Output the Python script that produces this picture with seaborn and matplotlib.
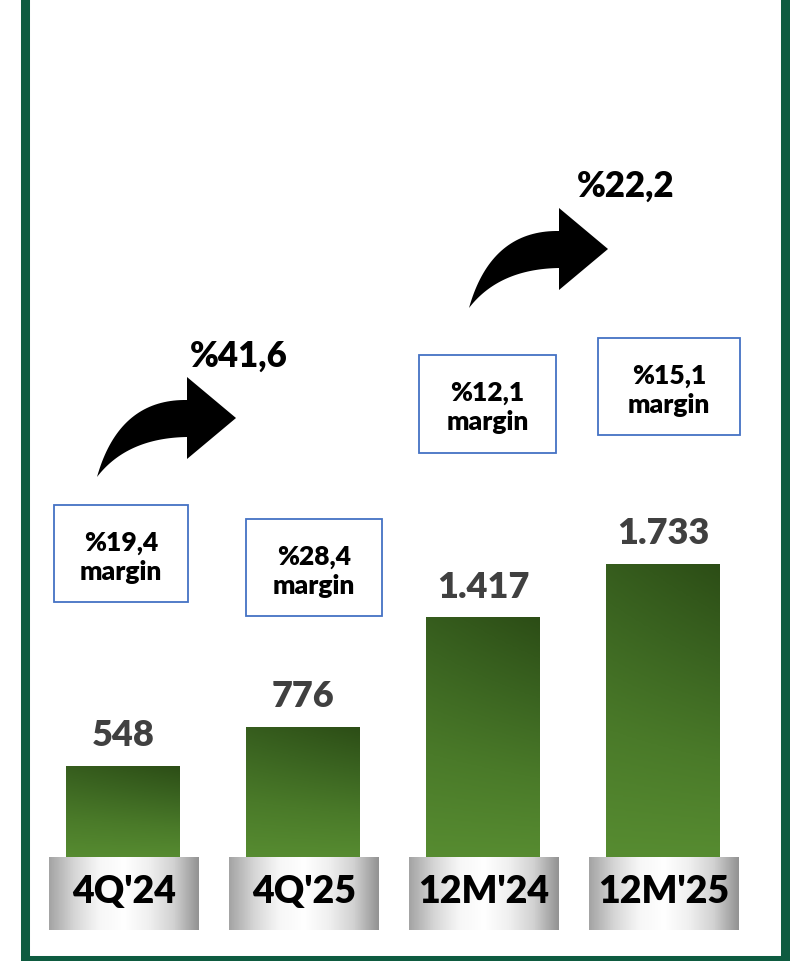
import numpy as np
import pandas as pd
import matplotlib.pyplot as plt
import seaborn as sns
from matplotlib.colors import LinearSegmentedColormap
from matplotlib.patches import Rectangle, Polygon

# data
periods = ["4Q'24", "4Q'25", "12M'24", "12M'25"]
values = [548, 776, 1417, 1733]
margins = ["%19,4", "%28,4", "%12,1", "%15,1"]
growth = ["%41,6", "%22,2"]

df = pd.DataFrame({"period": periods, "value": values})

sns.set_theme(style="white")
plt.rcParams['font.family'] = ['Lato', 'DejaVu Sans']
WEIGHT = 'heavy'

W, H = 790, 962
fig = plt.figure(figsize=(W / 100, H / 100), dpi=100, facecolor='white')

# main bar axes: baseline at y=860px, 180px per category
ax = fig.add_axes([33 / W, (H - 860) / H, 720 / W, (860 - 178) / H])
sns.barplot(data=df, x="period", y="value", width=0.63, color="#4a7a28", ax=ax)
ax.set_xlim(-0.5, 3.5)
ax.set_ylim(0, 4000)
ax.set_axis_off()

# vertical/diagonal green gradient clipped to each bar
green = LinearSegmentedColormap.from_list("g", ["#578c31", "#4a7a29", "#3a6320", "#2c4d16"])
yy, xx = np.mgrid[0:1:200j, 0:1:60j]
grad = 0.8 * yy + 0.25 * xx * yy
for p in ax.patches:
    x0, y0 = p.get_x(), p.get_y()
    w, h = p.get_width(), p.get_height()
    im = ax.imshow(grad, cmap=green, origin='lower', aspect='auto',
                   extent=(x0, x0 + w, y0, y0 + h), zorder=2, vmin=0, vmax=1.05)
    im.set_clip_path(p)
    p.set_facecolor('none')
    p.set_linewidth(0)
ax.set_xlim(-0.5, 3.5)
ax.set_ylim(0, 4000)

for i, v in enumerate(values):
    ax.annotate(f"{v:,}".replace(",", "."), xy=(i, v), xytext=(0, 15),
                textcoords="offset points", ha='center', va='baseline',
                fontsize=26, fontweight=WEIGHT, color='#404040')

# overlay in pixel coordinates for labels, boxes, arrows and frame
ov = fig.add_axes([0, 0, 1, 1], zorder=5)
ov.set_xlim(0, W)
ov.set_ylim(H, 0)
ov.set_axis_off()
ov.patch.set_alpha(0)

gray = LinearSegmentedColormap.from_list(
    "gr", ["#a4a4a4", "#d6d6d6", "#f7f7f7", "#ffffff", "#f0f0f0", "#d2d2d2", "#939393"])
hgrad = np.linspace(0, 1, 200)[None, :]
for i, lab in enumerate(periods):
    cx = 124 + 180 * i
    ov.imshow(hgrad, cmap=gray, aspect='auto', extent=(cx - 75, cx + 75, 931, 858), zorder=1)
    ov.text(cx, 903, lab, ha='center', va='baseline', fontsize=27,
            fontweight=WEIGHT, color='black', zorder=2)
ov.set_xlim(0, W)
ov.set_ylim(H, 0)

# margin boxes
boxes = [(54, 506, 134, 97), (246, 520, 136, 97), (419, 356, 137, 98), (598, 339, 142, 97)]
for (bx, by, bw, bh), m in zip(boxes, margins):
    ov.add_patch(Rectangle((bx, by), bw, bh, facecolor='white', edgecolor='#4472c4', lw=1.3, zorder=3))
    ov.text(bx + bw / 2, by + bh / 2 + 3, f"{m}\nmargin", ha='center', va='center',
            fontsize=19, fontweight=WEIGHT, color='black', linespacing=1.25, zorder=4)


def bez(p0, c, p1, n=40):
    t = np.linspace(0, 1, n)[:, None]
    return (1 - t) ** 2 * np.array(p0) + 2 * t * (1 - t) * np.array(c) + t ** 2 * np.array(p1)


def curved_arrow(tx, ty):
    upper = bez((0, 0), (22, -78), (90, -77))
    lower = bez((90, -40), (30, -39), (0, 0))
    head = np.array([(90, -100), (139, -59), (90, -18)])
    pts = np.vstack([upper, head, lower]) + np.array([tx, ty])
    ov.add_patch(Polygon(pts, closed=True, facecolor='black', edgecolor='none', zorder=3))


curved_arrow(97, 478)
curved_arrow(469, 309)
ov.text(239, 367, growth[0], ha='center', va='baseline', fontsize=25, fontweight=WEIGHT, color='black')
ov.text(626, 197, growth[1], ha='center', va='baseline', fontsize=25, fontweight=WEIGHT, color='black')

# dark green frame
ov.add_patch(Rectangle((24.5, -0.5), 760, 961.5, facecolor='none', edgecolor='#0e5b40',
                       lw=6.5, zorder=6, clip_on=False))

fig.savefig("out.png", dpi=100)
